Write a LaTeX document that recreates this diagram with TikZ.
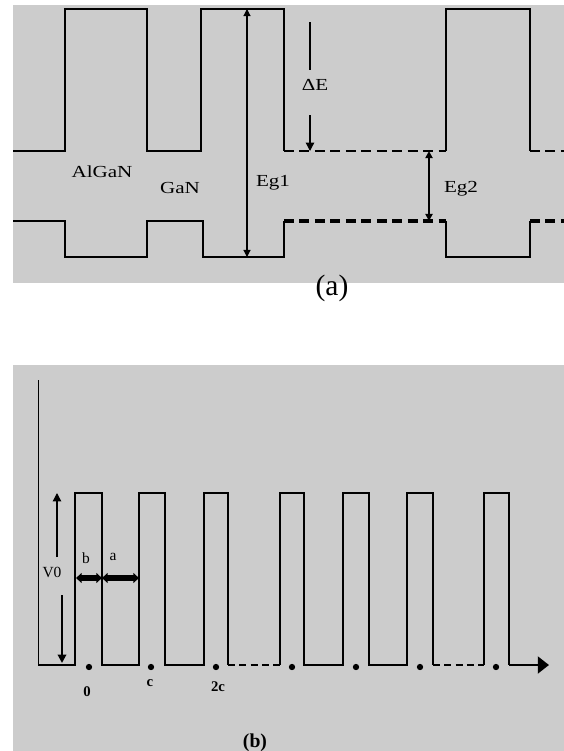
\documentclass[tikz,border=0pt]{standalone}
\usepackage{fontspec}
\setmainfont{Liberation Serif}
\newfontfamily\widefont[FakeStretch=1.25]{Liberation Serif}
\usetikzlibrary{arrows.meta}

\begin{document}
\begin{tikzpicture}[
    x=0.025cm, y=-0.025cm,
    panel/.style={fill=gray!40, draw=none},
    wave/.style={line width=1.8pt, line join=miter},
    gapline/.style={wave, dash pattern=on 7pt off 4pt},
    lbl/.style={font=\widefont\fontsize{12}{14}\selectfont, inner sep=0pt},
    small/.style={font=\fontsize{11}{13}\selectfont, inner sep=0pt},
    smallb/.style={font=\bfseries\fontsize{10.5}{12}\selectfont, inner sep=0pt},
    capt/.style={font=\fontsize{21}{24}\selectfont, inner sep=0pt},
    captb/.style={font=\bfseries\fontsize{14}{16}\selectfont, inner sep=0pt},
    dim/.style={{Triangle[length=5pt,width=5pt]}-{Triangle[length=5pt,width=5pt]}, line width=0.8pt},
    dimthick/.style={{Triangle[length=4pt,width=7pt]}-{Triangle[length=4pt,width=7pt]}, line width=4pt},
    arr/.style={-{Triangle[length=6pt,width=6pt]}, line width=0.9pt},
    site/.style={circle, fill=black, inner sep=0pt, minimum size=4.5pt},
]

\useasboundingbox[fill=white] (0,0) rectangle (564,751);

% panel (a): band edges
\fill[panel] (13,5) rectangle (564,283);

\draw[wave] (13,151) -- (65,151) -- (65,9) -- (147,9) -- (147,151) -- (201,151)
    -- (201,9) -- (284,9) -- (284,151);
\draw[gapline, line width=1.4pt] (284,151) -- (446,151);
\draw[wave] (446,151) -- (446,9) -- (530,9) -- (530,151);
\draw[gapline, line width=1.4pt] (530,151) -- (564,151);

\draw[wave] (13,221) -- (65,221) -- (65,257) -- (147,257) -- (147,221) -- (203,221)
    -- (203,257) -- (284,257) -- (284,221);
\draw[gapline, line width=2.2pt] (284,221) -- (446,221);
\draw[wave] (446,221) -- (446,257) -- (530,257) -- (530,221);
\draw[gapline, line width=2.2pt] (530,221) -- (564,221);

\node[lbl] (algan) at (102,172) {AlGaN};
\node[lbl] (gan) at (180,188) {GaN};

% gaps
\coordinate (eg1top) at (247,9);
\coordinate (eg1bot) at (247,257);
\draw[dim] (eg1top) -- (eg1bot);
\node[lbl] (eg1) at (273,183) {Eg1};

\coordinate (eg2top) at (429,151);
\coordinate (eg2bot) at (429,221);
\draw[dim, line width=1.6pt] (eg2top) -- (eg2bot);
\node[lbl] (eg2) at (461,189) {Eg2};

\node[lbl] (de) at (315,85) {ΔE};
\coordinate (detop) at (310,22);
\coordinate (deup) at (310,70);
\coordinate (delow) at (310,115);
\coordinate (debot) at (310,151);
\draw[line width=0.9pt] (detop) -- (deup);
\draw[arr] (delow) -- (debot);

\node[capt] (capa) at (332,288) {(a)};

% panel (b): Kronig-Penney potential
\fill[panel] (13,365) rectangle (564,751);

\coordinate (origin) at (38,665);
\coordinate (axtop) at (38,380);
\draw[line width=0.7pt] (origin) -- (axtop);

\draw[wave] (origin) -- (75,665) -- (75,493) -- (102,493) -- (102,665) -- (139,665)
    -- (139,493) -- (165,493) -- (165,665) -- (204,665) -- (204,493) -- (228,493) -- (228,665);
\draw[gapline, dash pattern=on 5pt off 3pt] (228,665) -- (280,665);
\draw[wave] (280,665) -- (280,493) -- (304,493) -- (304,665) -- (343,665) -- (343,493)
    -- (369,493) -- (369,665) -- (407,665) -- (407,493) -- (433,493) -- (433,665);
\draw[gapline, dash pattern=on 5pt off 3pt] (433,665) -- (484,665);
\coordinate (xend) at (549,665);
\draw[wave] (484,665) -- (484,493) -- (509,493) -- (509,665);
\draw[wave, -{Triangle[length=8pt,width=12pt]}] (509,665) -- (xend);

\node[site] (s0) at (89,667) {};
\node[site] (s1) at (151,667) {};
\node[site] (s2) at (216,667) {};
\node[site] (s3) at (292,667) {};
\node[site] (s4) at (356,667) {};
\node[site] (s5) at (420,667) {};
\node[site] (s6) at (496,667) {};

\node[smallb] (l0) at (87,692) {0};
\node[smallb] (lc) at (150,683) {c};
\node[smallb] (l2c) at (218,687) {2c};

% barrier height and widths
\node[small] (v0) at (52,572) {V0};
\coordinate (v0up) at (57,557);
\coordinate (v0top) at (57,493);
\coordinate (v0dn) at (62,595);
\coordinate (v0bot) at (62,663);
\draw[arr] (v0up) -- (v0top);
\draw[arr, line width=1.4pt] (v0dn) -- (v0bot);

\coordinate (bl) at (76,578);
\coordinate (br) at (102,578);
\coordinate (ar) at (139,578);
\draw[dimthick] (bl) -- (br);
\draw[dimthick] (br) -- (ar);
\node[small] (lb) at (86,558) {b};
\node[small] (la) at (113,557) {a};

\node[captb] (capb) at (255,743) {(b)};

\end{tikzpicture}
\end{document}
